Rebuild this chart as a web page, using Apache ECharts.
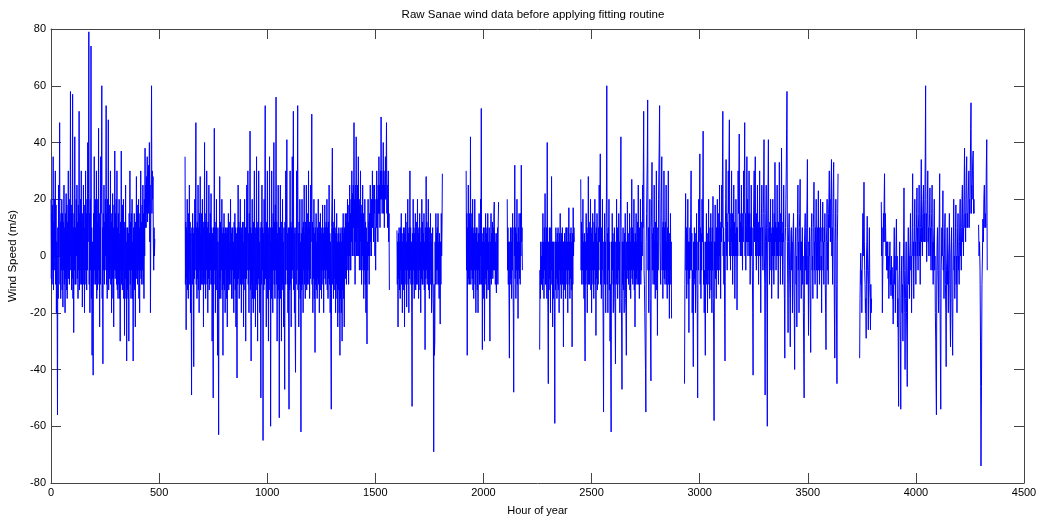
<!DOCTYPE html>
<html>
<head>
<meta charset="utf-8">
<script src="https://cdn.jsdelivr.net/npm/echarts@6/dist/echarts.min.js"></script>
<style>
html,body{margin:0;padding:0;background:#fff;}
#chart{width:1037px;height:518px;}
</style>
</head>
<body>
<div id="chart"></div>
<script>
// Each recorded stretch: first and last hour; its readings are evenly spaced between them
const segmentStarts = [0, 620, 1600, 1920, 2110, 2260, 2450, 2930, 3740, 3840, 4290];
const segmentEnds   = [480, 1565, 1810, 2070, 2180, 2420, 2870, 3640, 3795, 4270, 4330];

const segA = [20,-8,15,-10,18,-5,35,-12,12,-5,20,0,30,-10,18,-20,5,-15,-56,10,-15,25,0,18,47,-10,12,-15,15,-5,20,-12,15,-18,12,-5,25,-10,10,-20,15,-8,22,-12,18,-15,12,-5,30,-8,15,-10,20,0,58,-5,18,-12,15,-8,57,-15,10,-27,15,-5,42,-10,10,-10,20,0,25,-8,12,-15,18,-5,51,-12,15,-10,20,-5,30,-10,12,-18,15,-5,25,-10,10,-20,18,-5,30,-10,15,-12,20,-5,40,5,22,79,-10,15,-20,20,-5,74,-15,10,-35,5,-20,-42,15,-10,35,-5,18,-10,20,-8,30,-15,12,-12,20,-5,45,-10,15,-25,10,-10,35,15,25,60,-15,10,-38,15,-5,25,-10,12,-5,20,0,53,-10,15,-15,20,-5,48,-12,10,-8,18,-5,30,-10,12,-20,15,-8,22,-15,10,-25,18,-5,37,-8,15,-5,20,-10,30,-12,10,-15,15,-10,20,-15,8,-30,12,-5,37,-10,15,-12,18,-5,20,-15,10,-28,12,-8,25,-15,5,-37,10,-12,10,-15,8,-30,15,-5,30,-10,12,-15,15,-5,20,-15,5,-37,10,-10,15,-12,10,-25,12,-5,28,-8,15,-10,18,-5,20,-15,10,-20,15,-5,30,-8,12,-10,18,-5,25,-10,15,-15,20,0,38,10,25,10,28,15,35,12,30,15,32,18,40,5,25,-20,15,30,60,15,30,20,28,5,-5,10,0,6];
const segB = [35,-10,12,-26,10,-8,20,-12,8,-15,15,-5,25,-10,12,-20,8,-15,-49,10,-10,15,-5,8,-39,10,-8,20,-5,15,47,-10,10,-15,12,-8,25,-12,10,-20,15,-5,28,-12,8,-10,15,-5,20,-10,12,-25,10,-10,40,-8,12,-15,15,-5,30,-10,10,-20,12,-8,25,-12,8,-10,15,-5,22,-10,10,-30,8,-15,-50,10,-10,45,-5,12,-20,10,-5,20,-12,5,-35,10,-20,-63,5,-15,28,-8,12,-15,10,-5,20,-12,8,-35,10,-10,15,-12,8,-20,10,-5,10,-15,8,-25,10,-8,15,-12,5,-10,12,-5,20,-10,8,-15,10,-5,10,-15,5,-20,12,-8,15,-12,10,-25,8,-15,-43,10,-10,25,-8,12,-15,10,-5,20,-10,8,-20,10,-8,12,-10,5,-25,12,-8,20,-12,10,-30,10,-8,25,-5,12,30,-10,8,-20,15,-5,44,-12,10,-37,8,-10,20,-15,10,-20,12,-5,30,-15,8,-25,10,-10,35,-12,10,-30,12,-8,30,-10,5,-20,10,-15,-50,12,-10,25,-5,10,-65,8,-12,20,-10,15,53,-8,10,-25,12,-10,30,-15,8,-30,10,-12,35,-8,10,-60,5,-15,30,-12,10,-20,15,-5,40,-10,12,-15,18,-5,56,-10,12,-30,8,-15,25,-12,10,-57,10,-8,25,-15,8,-30,12,-10,20,-12,5,-25,10,-20,-47,12,-10,30,-5,15,41,-10,8,-20,10,-25,-54,10,-12,30,-10,12,-25,10,-8,35,-5,20,51,-12,10,-20,8,-25,-41,10,-10,30,-5,15,53,-12,8,-25,12,-10,20,-15,5,-62,8,-12,20,-10,10,-20,12,-5,25,-10,8,-15,12,-5,25,-12,10,-10,15,-5,30,-10,12,-15,10,-8,25,5,20,50,-10,12,-20,10,-8,20,-15,8,-34,10,-10,15,-12,5,-15,10,-8,20,-10,8,-20,12,-5,15,-12,8,-15,10,-5,18,-10,8,-20,10,-5,18,-8,10,-10,12,-5,20,-12,10,-15,12,-8,25,-10,8,-20,5,-30,-54,10,20,38,-10,12,-15,10,-8,20,-12,8,-20,10,-10,15,-15,5,-25,8,-12,10,-20,5,-35,8,-15,10,-20,5,-30,10,-12,15,-15,8,-25,10,-5,15,-8,12,-10,15,0,20,-5,12,-10,18,0,25,-5,15,-5,20,5,30,0,22,0,25,10,47,0,20,-10,25,5,42,0,20,0,25,10,35,0,18,-5,20,5,30,-5,15,-10,18,0,25,-5,15,-15,10,-5,20,-10,12,-20,10,-10,-31,5,-5,20,0,12,-10,15,0,25,5,15,0,20,10,30,10,20,5,25,15,25,0,10,-5,20,10,30,10,20,5,25,15,35,15,25,10,30,20,49,20,30,15,25,20,40,15,30,10,25,20,35,20,30,47,15,25,10,20,30,5,15,-12];
const segC = [9,-10,5,-25,8,-8,10,-12,5,-15,10,-5,15,-10,8,-20,5,-10,10,-12,8,-25,10,-5,15,-10,5,-18,12,-5,20,-10,8,-20,10,-8,30,-5,10,-10,5,-20,-53,8,-10,20,-5,10,-15,8,-8,15,-12,5,-10,12,-5,20,-10,8,-15,10,-5,15,-12,5,-20,10,-8,20,-10,12,-10,8,-5,15,-12,5,-33,10,-8,28,-5,12,-10,10,-8,20,-12,5,-15,10,-5,15,-10,8,-20,5,-10,10,-15,-20,-69,-10,-35,-30,5,-10,15,-5,8,-10,10,-5,15,-10,5,-15,8,-10,-24,5,-10,15,0,10,29];
const segD = [30,-5,15,-35,10,-10,25,-8,12,-10,15,-5,42,-10,10,-5,15,-8,20,-12,8,-15,10,-5,20,-10,8,-20,10,-5,10,-12,5,-20,8,-5,15,-10,8,-10,20,0,52,-10,8,-33,5,-12,10,-15,5,-30,10,-8,15,-10,8,-15,10,-5,15,-12,5,-10,10,-15,-30,5,-8,15,-10,8,-5,12,-8,10,-5,15,19,-5,8,-10,5,-8,-13,8,-5,10,-10,12,19];
const segE = [20,-5,10,-10,5,-15,-36,5,-10,10,-8,5,-15,10,-5,15,-10,-20,-48,10,0,32,-8,10,-15,8,-5,20,-10,5,-22,10,-5,15,-8,5,-10,15,0,32,5,10,-5];
const segF = [-33,-5,-15,5,-10,0,-10,5,-12,15,-8,5,-15,10,-5,22,-10,5,-10,10,-15,40,-5,-20,-45,5,-12,10,-8,5,-20,10,-5,28,-10,5,-25,5,-15,5,-10,-20,-59,5,-12,10,-8,5,-15,8,-10,10,-12,5,-20,8,-5,15,-10,5,-15,8,-5,10,-10,5,-32,5,-10,8,-12,5,-15,10,-5,10,-10,5,-20,10,-5,17,-10,5,-15,8,-8,10,-12,5,-32,8,-10,17,0,10,5];
const segG = [27,-5,12,-10,8,-5,20,-10,5,-15,8,-20,-37,5,-10,15,-5,10,-20,8,-5,28,-10,12,-10,10,-5,20,-12,8,-20,10,-5,15,-10,5,-15,12,-5,20,-10,8,-28,10,-8,15,-12,5,-10,10,-5,25,5,15,36,-10,8,-15,10,-5,20,-10,-25,-55,5,-10,15,-8,5,-20,10,20,60,-10,8,-20,10,-5,20,-12,5,-30,-10,-40,-62,5,-10,15,-5,8,-20,5,-10,10,-15,-20,-38,5,-10,20,-8,10,-15,8,-5,15,-10,5,-20,10,20,42,-15,-25,-47,5,-10,10,-12,5,-20,8,-5,15,-15,-20,-35,5,-8,19,-5,8,-10,5,-5,15,-12,5,-15,10,-5,27,-8,10,-10,8,-5,20,-12,5,-25,8,-10,15,-8,5,-10,12,-5,25,-10,8,-15,10,-5,20,-10,5,-5,12,0,25,10,30,51,-5,-10,-20,-30,-40,-55,5,15,25,35,55,-5,10,-20,10,-5,20,-15,-30,-44,10,20,33,-5,8,-10,10,-5,25,-10,5,-15,12,-5,30,-12,5,-28,10,-5,20,30,40,53,5,-5,-10,15,25,35,-5,10,-15,12,-5,30,-8,10,-10,12,-5,25,-10,5,-15,10,-5,30,-10,5,-22,8,-5,15,-10,5,-22];
const segH = [-45,-10,5,22,-5,10,-15,8,-5,20,-10,5,-27,5,-8,10,-5,15,30,-5,8,-20,-5,-15,-39,5,-10,10,-8,5,-20,8,-5,15,-10,-20,-50,5,-5,20,5,15,36,-10,10,-15,8,-5,20,5,15,44,-10,5,-20,-5,-15,-35,5,-8,15,-10,5,-20,8,-5,20,-10,5,-15,10,-5,15,-12,5,-20,10,-5,21,-15,-30,-58,5,-5,18,-8,5,-15,10,0,20,-5,10,-10,15,0,25,-5,10,-15,12,5,25,10,30,51,0,10,-10,5,-20,-37,10,20,34,0,15,-5,12,5,30,15,35,48,0,15,-5,10,5,30,0,15,-10,10,0,25,0,12,-15,8,0,20,0,10,-19,10,0,30,15,25,43,5,15,0,12,5,25,0,10,-5,15,5,30,15,25,47,0,15,-5,10,5,35,5,20,0,15,5,30,0,15,-10,10,0,25,0,10,-5,-20,-42,10,20,30,5,20,35,0,10,-5,15,5,25,0,12,-10,10,0,30,0,10,-20,5,15,25,0,10,-5,15,25,41,0,-10,-49,5,15,25,0,-20,-60,10,25,41,5,10,-10,12,5,20,-5,8,-15,10,0,20,-5,10,-10,15,0,33,5,12,-5,10,0,25,0,10,-15,12,0,33,5,10,-10,15,5,38,0,8,-10,12,5,25,-5,-15,-36,5,10,20,30,45,58,5,-10,-27,5,10,15,-5,-15,-32,0,8,10,-5,5,-20,5,10,15,-10,-20,-40,0,5,10,-10,0,-25,5,15,25,-5,5,-20,10,15,27,-5,5,-15,5,0,10,-10,0,-20,-35,-50,5,10,15,-5,0,-10,10,20,34,-10,0,-28,5,0,10,-10,-20,-34,5,10,15,-5,0,-15,10,15,26,-5,5,-10,10,5,20,-5,5,-15,10,5,23,-5,5,-10,10,5,20,-5,0,-20,10,5,19,-5,5,-10,10,5,15,-10,-20,-33,5,10,20,-5,5,-10,15,20,30,10,20,5,15,25,34,0,10,-10,15,25,33,0,-20,-36,5,10,20,-10,-25,-45,5,15,29];
const segI = [-36,-15,-5,1,-10,-5,-20,-5,5,15,0,10,26,5,-5,-10,-20,-15,-29,0,5,14,-5,-10,-26,-5,0,10,-10,-15,-26,-10,-20,-15];
const segJ = [19,0,10,-20,-5,5,15,5,20,29,5,15,10,0,5,-5,5,-5,5,-8,0,-15,-5,0,5,-10,-5,-14,0,-10,-4,-15,-10,-24,-10,0,10,-10,0,-20,-5,5,13,-5,0,-25,-15,-30,-53,-10,-5,5,-20,-30,-54,-15,-5,0,-20,-10,-30,-10,5,24,-5,-20,-40,-15,-5,5,-20,-30,-46,-10,0,10,-10,0,-15,0,5,15,-5,0,-20,0,10,29,0,5,-15,0,10,20,0,5,-10,5,15,24,0,10,-5,10,15,25,0,5,-10,10,20,34,5,10,0,15,20,25,5,15,5,20,35,60,5,15,-2,10,20,30,5,10,0,10,15,24,0,10,-5,10,15,25,-5,5,-10,5,10,20,-5,0,-20,-30,-45,-56,-5,5,10,-5,-10,-20,5,15,29,-15,-35,-54,-5,0,10,0,10,23,-5,0,-15,0,10,15,-10,-20,-39,-5,0,10,-10,-5,-20,0,5,15,-10,-20,-32,0,5,10,-15,-25,-35,-5,5,20,-5,0,-15,0,10,18,-10,0,-20,0,10,15,-5,0,-10,5,15,20,0,5,-5,10,20,25,5,10,0,15,25,38,10,15,5,20,30,35,10,15,10,20,25,30,10,20,15,30,45,54,15,25,20,30,35,37,15,20,15];
const segK = [11,0,5,-5,-30,-74,-46,-10,0,13,5,20,25,10,15,10,30,41,-5];

const segments = [segA, segB, segC, segD, segE, segF, segG, segH, segI, segJ, segK];

const xTicks = [0, 500, 1000, 1500, 2000, 2500, 3000, 3500, 4000, 4500];
const yTicks = [-80, -60, -40, -20, 0, 20, 40, 60, 80];

const series = segments.map(function (seg, s) {
  const start = segmentStarts[s], end = segmentEnds[s];
  const step = (end - start) / (seg.length - 1);
  return {
    type: 'line',
    xAxisIndex: 0, yAxisIndex: 0,
    data: seg.map(function (v, i) { return [start + i * step, v]; }),
    showSymbol: false,
    symbol: 'none',
    sampling: null,
    silent: true,
    lineStyle: {color: '#0000ff', width: 1},
    itemStyle: {color: '#0000ff'}
  };
});

const chart = echarts.init(document.getElementById('chart'), null, {renderer: 'canvas'});
const font = 'Liberation Sans, Arial, Helvetica, sans-serif';
const axisColor = '#444444';
const tickCommon = {show: true, inside: true, length: 10, lineStyle: {color: axisColor, width: 1}};
const plain = function (v) { return String(v); };

function axisBase(extra) {
  return Object.assign({
    type: 'value',
    axisLine: {show: true, onZero: false, lineStyle: {color: axisColor, width: 1}},
    axisTick: tickCommon,
    splitLine: {show: false}
  }, extra);
}

chart.setOption({
  animation: false,
  backgroundColor: '#ffffff',
  title: {
    text: 'Raw Sanae wind data before applying fitting routine',
    left: 533, top: 9, padding: 0, textAlign: 'center',
    textStyle: {fontFamily: font, fontSize: 11.5, fontWeight: 'normal', color: '#000'}
  },
  grid: {left: 51, top: 29, width: 973, height: 454, containLabel: false, outerBoundsMode: 'none'},
  xAxis: [axisBase({
    min: xTicks[0], max: xTicks[xTicks.length - 1], interval: 500,
    position: 'bottom',
    name: 'Hour of year', nameLocation: 'middle', nameGap: 22,
    nameTextStyle: {fontFamily: font, fontSize: 11, color: '#000'},
    axisLabel: {fontFamily: font, fontSize: 11, color: '#000', margin: 4, formatter: plain, hideOverlap: false}
  }), axisBase({
    min: xTicks[0], max: xTicks[xTicks.length - 1], interval: 500,
    position: 'top',
    axisLabel: {show: false}
  })],
  yAxis: [axisBase({
    min: yTicks[0], max: yTicks[yTicks.length - 1], interval: 20,
    position: 'left',
    name: 'Wind Speed (m/s)', nameLocation: 'middle', nameGap: 24, nameRotate: 90,
    nameTextStyle: {fontFamily: font, fontSize: 11.5, color: '#000'},
    axisLabel: {fontFamily: font, fontSize: 11, color: '#000', margin: 5, formatter: plain,
      verticalAlign: 'middle', hideOverlap: false}
  }), axisBase({
    min: yTicks[0], max: yTicks[yTicks.length - 1], interval: 20,
    position: 'right',
    axisLabel: {show: false}
  })],
  series: series
});
</script>
</body>
</html>
